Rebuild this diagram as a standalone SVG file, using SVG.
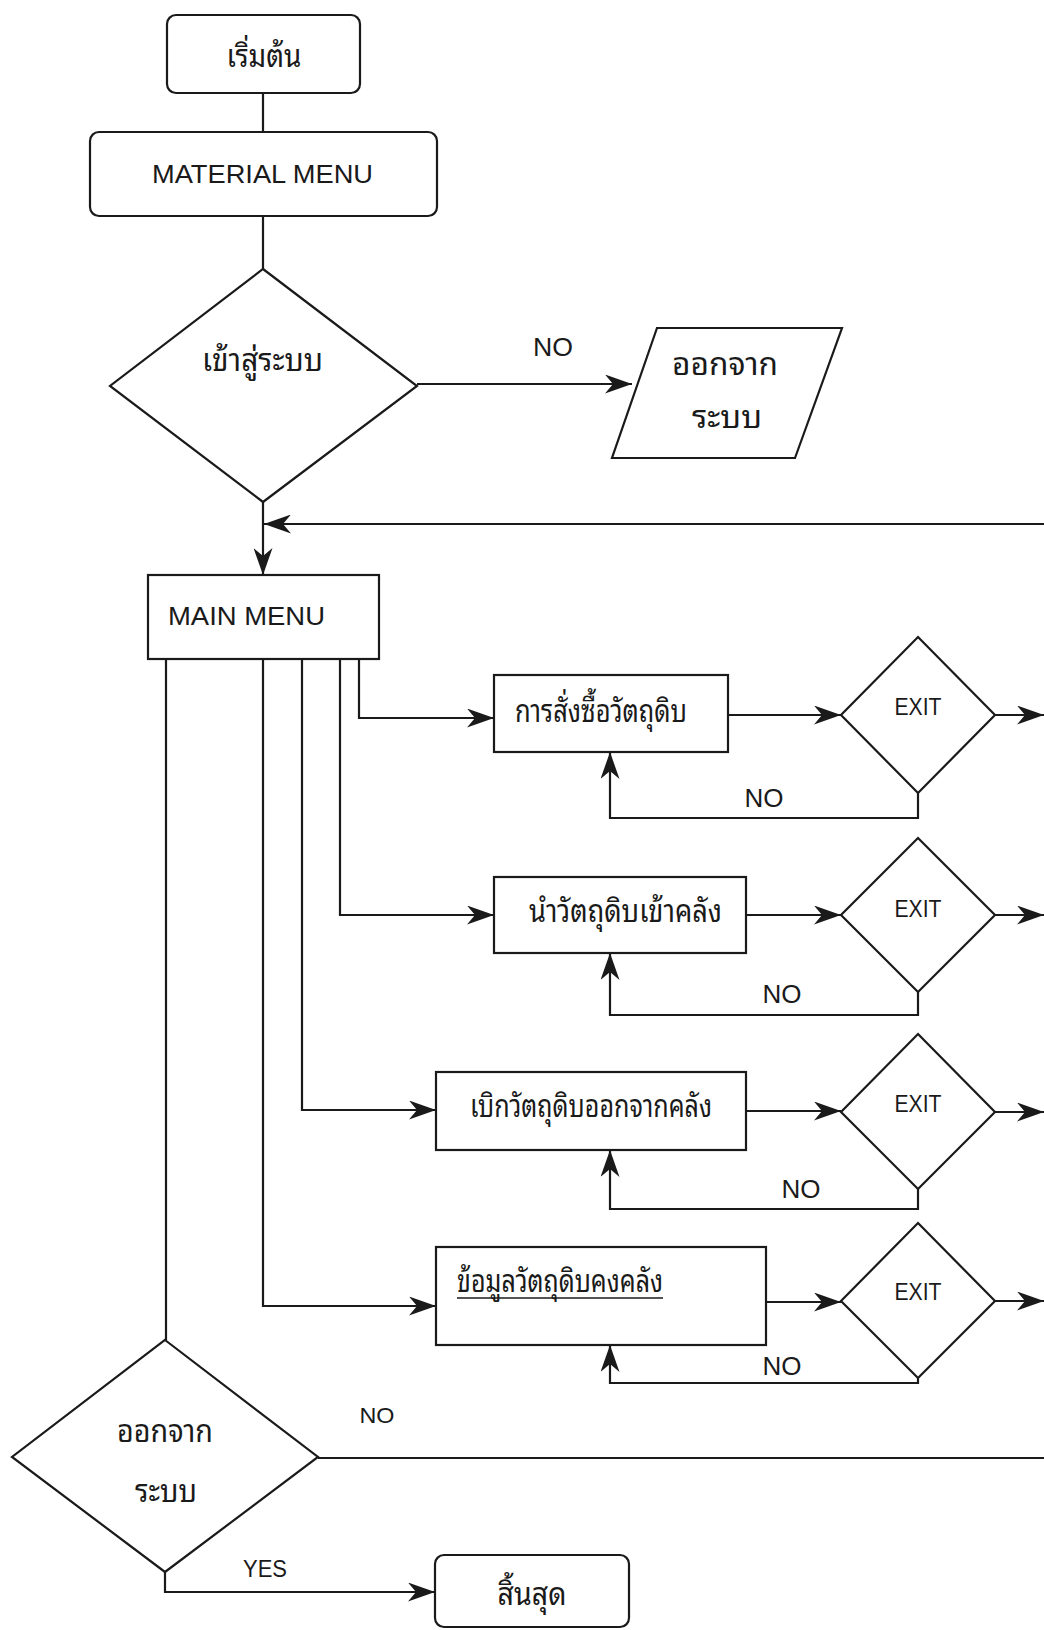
<svg xmlns="http://www.w3.org/2000/svg" width="1044" height="1630" viewBox="0 0 1044 1630">
<style>
.s{fill:#fff;stroke:#1a1a1a;stroke-width:2.2}
.c{fill:none;stroke:#1a1a1a;stroke-width:2.2}
.ar{marker-end:url(#ah)}
.t{font-family:"Noto Sans Thai Looped","Loma","Garuda","Norasi","Noto Sans Thai","DejaVu Sans","Liberation Sans",sans-serif;font-size:31px;fill:#1a1a1a}
.e{font-family:"Liberation Sans",Arial,sans-serif;font-size:26px;fill:#1a1a1a}
.m{text-anchor:middle}
</style>
<defs>
<marker id="ah" markerUnits="userSpaceOnUse" viewBox="0 0 27 19" refX="27" refY="9.5" markerWidth="27" markerHeight="19" orient="auto">
<path d="M0,0 L27,9.5 L0,19 L8,9.5 Z" fill="#1a1a1a"/>
</marker>
</defs>
<rect width="1044" height="1630" fill="#fff"/>
<g id="connectors">
<path class="c" d="M263,93 V132"/>
<path class="c" d="M263,216 V269"/>
<path class="c ar" d="M417,384 H632"/>
<path class="c ar" d="M263,502 V575"/>
<path class="c ar" d="M1044,524 H264"/>
<path class="c ar" d="M359,659 V718 H494"/>
<path class="c ar" d="M340,659 V915 H494"/>
<path class="c ar" d="M302,659 V1110 H436"/>
<path class="c ar" d="M263,659 V1306 H436"/>
<path class="c" d="M166,659 V1340"/>
<path class="c ar" d="M728,715 H841"/>
<path class="c ar" d="M746,915 H841"/>
<path class="c ar" d="M746,1111 H841"/>
<path class="c ar" d="M766,1302 H841"/>
<path class="c ar" d="M995,715 H1044"/>
<path class="c ar" d="M995,915 H1044"/>
<path class="c ar" d="M995,1112 H1044"/>
<path class="c ar" d="M995,1301 H1044"/>
<path class="c ar" d="M918,793 V818 H610 V752"/>
<path class="c ar" d="M918,992 V1015 H610 V953"/>
<path class="c ar" d="M918,1189 V1209 H610 V1150"/>
<path class="c ar" d="M918,1378 V1383 H610 V1345"/>
<path class="c" d="M318,1458 H1044"/>
<path class="c ar" d="M165,1572 V1592 H435"/>
<text class="e m" x="553" y="356" textLength="40" lengthAdjust="spacingAndGlyphs">NO</text>
<text class="e m" x="764" y="807" textLength="39" lengthAdjust="spacingAndGlyphs">NO</text>
<text class="e m" x="782" y="1003" textLength="39" lengthAdjust="spacingAndGlyphs">NO</text>
<text class="e m" x="801" y="1198" textLength="39" lengthAdjust="spacingAndGlyphs">NO</text>
<text class="e m" x="782" y="1375" textLength="39" lengthAdjust="spacingAndGlyphs">NO</text>
<text class="e m" x="377" y="1423" style="font-size:22px" textLength="35" lengthAdjust="spacingAndGlyphs">NO</text>
<text class="e m" x="265" y="1577" style="font-size:23px" textLength="44" lengthAdjust="spacingAndGlyphs">YES</text>
</g>
<g id="start">
<rect class="s" x="167" y="15" width="193" height="78" rx="9"/>
<text class="t m" x="264" y="67" textLength="75" lengthAdjust="spacingAndGlyphs">เริ่มต้น</text>
</g>
<g id="material-menu">
<rect class="s" x="90" y="132" width="347" height="84" rx="9"/>
<text class="e m" x="262.5" y="183" textLength="221" lengthAdjust="spacingAndGlyphs">MATERIAL MENU</text>
</g>
<g id="login">
<polygon class="s" points="263,269 417,386 263,502 110,386"/>
<text class="t m" x="262.5" y="371" textLength="121" lengthAdjust="spacingAndGlyphs">เข้าสู่ระบบ</text>
</g>
<g id="exit-system">
<polygon class="s" points="657,328 842,328 795,458 612,458"/>
<text class="t m" x="725" y="375" textLength="106" lengthAdjust="spacingAndGlyphs">ออกจาก</text>
<text class="t m" x="727" y="428" textLength="70" lengthAdjust="spacingAndGlyphs">ระบบ</text>
</g>
<g id="main-menu">
<rect class="s" x="148" y="575" width="231" height="84"/>
<text class="e" x="168" y="625" textLength="157" lengthAdjust="spacingAndGlyphs">MAIN MENU</text>
</g>
<g id="purchase">
<rect class="s" x="494" y="675" width="234" height="77"/>
<text class="t m" x="601" y="722" textLength="172" lengthAdjust="spacingAndGlyphs">การสั่งซื้อวัตถุดิบ</text>
</g>
<g id="exit1">
<polygon class="s" points="918,637 995,715 918,793 841,715"/>
<text class="e m" x="918" y="715" style="font-size:24px" textLength="47" lengthAdjust="spacingAndGlyphs">EXIT</text>
</g>
<g id="receive">
<rect class="s" x="494" y="877" width="252" height="76"/>
<text class="t m" x="625.5" y="922" textLength="193" lengthAdjust="spacingAndGlyphs">นำวัตถุดิบเข้าคลัง</text>
</g>
<g id="exit2">
<polygon class="s" points="918,838 995,915 918,992 841,915"/>
<text class="e m" x="918" y="917" style="font-size:24px" textLength="47" lengthAdjust="spacingAndGlyphs">EXIT</text>
</g>
<g id="withdraw">
<rect class="s" x="436" y="1072" width="310" height="78"/>
<text class="t m" x="591" y="1117" textLength="242" lengthAdjust="spacingAndGlyphs">เบิกวัตถุดิบออกจากคลัง</text>
</g>
<g id="exit3">
<polygon class="s" points="918,1034 995,1112 918,1189 841,1112"/>
<text class="e m" x="918" y="1112" style="font-size:24px" textLength="47" lengthAdjust="spacingAndGlyphs">EXIT</text>
</g>
<g id="stock">
<rect class="s" x="436" y="1247" width="330" height="98"/>
<text class="t m" x="560" y="1292" textLength="206" lengthAdjust="spacingAndGlyphs">ข้อมูลวัตถุดิบคงคลัง</text>
<path class="c" d="M457,1298 H663" style="stroke-width:1.5"/>
</g>
<g id="exit4">
<polygon class="s" points="918,1223 995,1301 918,1378 841,1301"/>
<text class="e m" x="918" y="1300" style="font-size:24px" textLength="47" lengthAdjust="spacingAndGlyphs">EXIT</text>
</g>
<g id="logout">
<polygon class="s" points="165,1340 318,1457 165,1572 12,1457"/>
<text class="t m" x="165" y="1442" textLength="96" lengthAdjust="spacingAndGlyphs">ออกจาก</text>
<text class="t m" x="166" y="1502" textLength="62" lengthAdjust="spacingAndGlyphs">ระบบ</text>
</g>
<g id="end">
<rect class="s" x="435" y="1555" width="194" height="72" rx="9"/>
<text class="t m" x="532" y="1605" textLength="69" lengthAdjust="spacingAndGlyphs">สิ้นสุด</text>
</g>
</svg>
